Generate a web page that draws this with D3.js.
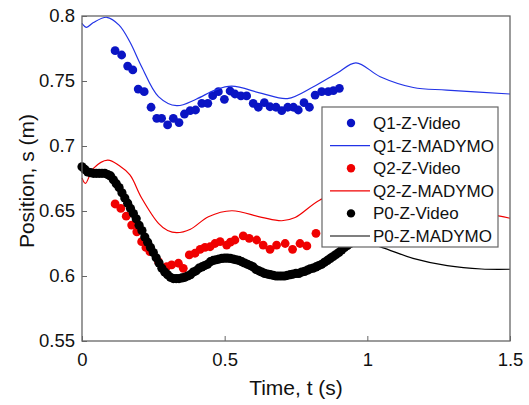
<!DOCTYPE html>
<html lang="en">
<head>
<meta charset="utf-8">
<title>Position vs time</title>
<script src="https://cdn.jsdelivr.net/npm/d3@7"></script>
<style>
  body { margin: 0; background: #fff; }
  svg { font-family: "Liberation Sans", Arial, sans-serif; }
</style>
</head>
<body>
<script>
// Q1 - video markers [t, s]
var q1Video = [[0.116,0.7733],[0.139,0.770],[0.160,0.7615],[0.178,0.7585],[0.197,0.7438],[0.218,0.7418],
  [0.242,0.7298],[0.262,0.7213],[0.279,0.7213],[0.300,0.7162],[0.320,0.7213],[0.340,0.718],[0.359,0.7246],
  [0.379,0.7272],[0.398,0.7277],[0.420,0.7328],[0.441,0.7328],[0.458,0.7387],[0.478,0.7418],[0.499,0.7359],
  [0.519,0.7423],[0.536,0.740],[0.557,0.7385],[0.577,0.7385],[0.600,0.7328],[0.618,0.7298],[0.639,0.7333],
  [0.659,0.7302],[0.680,0.7298],[0.700,0.7272],[0.721,0.7298],[0.741,0.7298],[0.758,0.7277],[0.778,0.7333],
  [0.797,0.7298],[0.817,0.7392],[0.840,0.7418],[0.863,0.7418],[0.881,0.7426],[0.902,0.7444]];
// Q1 - MADYMO curve
var q1Madymo = [[0,0.7944],[0.016,0.7913],[0.04,0.795],[0.087,0.799],[0.13,0.793],[0.168,0.78],[0.209,0.761],
  [0.268,0.738],[0.332,0.731],[0.4,0.736],[0.466,0.743],[0.525,0.746],[0.63,0.7405],[0.72,0.7365],
  [0.811,0.7456],[0.893,0.7559],[0.96,0.764],[1.045,0.7533],[1.161,0.745],[1.278,0.743],[1.5,0.740]];

// Q2 - video markers
var q2Video = [[0.116,0.6554],[0.136,0.652],[0.155,0.646],[0.174,0.6392],[0.192,0.634],[0.209,0.6264],
  [0.224,0.622],[0.238,0.6187],[0.268,0.611],[0.297,0.6072],[0.314,0.6085],[0.338,0.6098],[0.355,0.6059],
  [0.376,0.6162],[0.396,0.6175],[0.414,0.6205],[0.431,0.622],[0.449,0.6225],[0.466,0.625],[0.484,0.6264],
  [0.507,0.6238],[0.52,0.626],[0.536,0.6277],[0.565,0.6308],[0.586,0.629],[0.612,0.6277],[0.635,0.6238],
  [0.659,0.6205],[0.682,0.6238],[0.712,0.625],[0.738,0.6205],[0.764,0.625],[0.788,0.6231],[0.82,0.6328]];
// Q2 - MADYMO curve
var q2Madymo = [[0,0.6755],[0.012,0.6713],[0.04,0.6828],[0.09,0.6892],[0.13,0.685],[0.168,0.6777],
  [0.209,0.660],[0.268,0.6405],[0.3,0.635],[0.332,0.6333],[0.38,0.636],[0.443,0.6456],[0.525,0.6502],
  [0.63,0.6451],[0.70,0.6425],[0.747,0.645],[0.834,0.6585],[0.96,0.668],[1.05,0.658],[1.16,0.650],
  [1.3,0.6475],[1.46,0.6462],[1.5,0.6444]];

// P0 - video markers
var p0Video = [[0,0.684],[0.01,0.682],[0.02,0.680],[0.03,0.6795],[0.04,0.679],[0.05,0.679],[0.06,0.679],
  [0.07,0.679],[0.08,0.679],[0.09,0.678],[0.10,0.677],[0.11,0.674],[0.12,0.671],[0.13,0.668],[0.14,0.664],
  [0.15,0.660],[0.16,0.656],[0.17,0.652],[0.18,0.648],[0.19,0.644],[0.20,0.639],[0.21,0.635],[0.22,0.630],
  [0.23,0.626],[0.24,0.622],[0.25,0.618],[0.26,0.614],[0.27,0.610],[0.28,0.606],[0.29,0.603],[0.30,0.601],
  [0.31,0.599],[0.32,0.598],[0.33,0.598],[0.34,0.598],[0.35,0.5985],[0.36,0.599],[0.37,0.600],[0.38,0.601],
  [0.39,0.603],[0.40,0.604],[0.41,0.606],[0.42,0.607],[0.43,0.608],[0.44,0.609],[0.45,0.611],[0.46,0.612],
  [0.47,0.6125],[0.48,0.613],[0.49,0.6135],[0.50,0.6137],[0.51,0.6137],[0.52,0.6135],[0.53,0.613],
  [0.54,0.6125],[0.55,0.612],[0.56,0.611],[0.57,0.610],[0.58,0.609],[0.59,0.608],[0.60,0.607],[0.61,0.605],
  [0.62,0.604],[0.63,0.603],[0.64,0.602],[0.65,0.6015],[0.66,0.601],[0.67,0.6005],[0.68,0.600],[0.69,0.600],
  [0.70,0.600],[0.71,0.600],[0.72,0.6005],[0.73,0.601],[0.74,0.6015],[0.75,0.602],[0.76,0.602],[0.77,0.603],
  [0.78,0.6035],[0.79,0.6045],[0.80,0.6055],[0.81,0.606],[0.82,0.607],[0.83,0.608],[0.84,0.609],[0.85,0.6105],
  [0.86,0.612],[0.87,0.6135],[0.88,0.615],[0.89,0.6165],[0.90,0.618],[0.91,0.620],[0.92,0.622],[0.93,0.6235],
  [0.94,0.625]];
// P0 - MADYMO curve
var p0Madymo = [[0,0.684],[0.02,0.680],[0.08,0.679],[0.1,0.677],[0.15,0.660],[0.2,0.639],[0.25,0.618],
  [0.3,0.601],[0.33,0.598],[0.4,0.604],[0.5,0.6137],[0.6,0.607],[0.7,0.600],[0.8,0.6055],[0.9,0.618],
  [0.98,0.626],[1.05,0.622],[1.16,0.6136],[1.28,0.608],[1.4,0.6054],[1.5,0.6052]];

var xTicks = [0, 0.5, 1, 1.5];
var yTicks = [0.55, 0.6, 0.65, 0.7, 0.75, 0.8];
var legendNames = ["Q1-Z-Video", "Q1-Z-MADYMO", "Q2-Z-Video", "Q2-Z-MADYMO", "P0-Z-Video", "P0-Z-MADYMO"];

var w = 529, h = 405;
var mLeft = 82, mRight = 510, mTop = 16, mBottom = 341;

var svg = d3.select("body").append("svg").attr("width", w).attr("height", h);

var x = d3.scaleLinear().domain([0, 1.5]).range([mLeft, mRight]);
var y = d3.scaleLinear().domain([0.55, 0.8]).range([mBottom, mTop]);

var blueDot = "#0a14c4", blueLine = "#2233e6", red = "#f00000", black = "#000";

var line = d3.line()
  .x(function(d) { return x(d[0]); })
  .y(function(d) { return y(d[1]); })
  .curve(d3.curveCatmullRom.alpha(0.5));

function dots(data, color, r) {
  svg.append("g").selectAll("circle")
    .data(data)
    .enter()
    .append("circle")
    .attr("cx", function(d) { return x(d[0]); })
    .attr("cy", function(d) { return y(d[1]); })
    .attr("r", r)
    .attr("fill", color);
}
function curve(data, color) {
  svg.append("path")
    .attr("d", line(data))
    .attr("fill", "none")
    .attr("stroke", color)
    .attr("stroke-width", 1.2);
}

dots(q1Video, blueDot, 4.4);
curve(q1Madymo, blueLine);
dots(q2Video, red, 4.4);
curve(q2Madymo, red);
dots(p0Video, black, 4.6);
curve(p0Madymo, black);

// axes
var axisColor = "#666";
var xAxis = d3.axisBottom(x).tickValues(xTicks).tickSize(-5).tickPadding(12)
  .tickFormat(function(d) { return d3.format("")(d); });
var yAxis = d3.axisLeft(y).tickValues(yTicks).tickSize(-5).tickPadding(7)
  .tickFormat(function(d) { return d3.format("")(d); });

var gx = svg.append("g").attr("transform", "translate(0," + mBottom + ")").call(xAxis);
var gy = svg.append("g").attr("transform", "translate(" + mLeft + ",0)").call(yAxis);
[gx, gy].forEach(function(g) {
  g.select(".domain").remove();
  g.selectAll(".tick line").attr("stroke", axisColor);
  g.selectAll(".tick text").attr("fill", "#111").attr("font-size", "18.5px")
    .attr("font-family", "Liberation Sans, Arial, sans-serif");
});

// box
svg.append("rect")
  .attr("x", mLeft).attr("y", mTop)
  .attr("width", mRight - mLeft).attr("height", mBottom - mTop)
  .attr("fill", "none").attr("stroke", axisColor).attr("stroke-width", 1.3);

// titles
svg.append("text")
  .attr("x", (mLeft + mRight) / 2).attr("y", 395)
  .attr("text-anchor", "middle").attr("font-size", "21px").attr("fill", "#111")
  .text("Time, t (s)");
svg.append("text")
  .attr("transform", "translate(34,181) rotate(-90)")
  .attr("text-anchor", "middle").attr("font-size", "21px").attr("fill", "#111")
  .text("Position, s (m)");

// legend
var lg = svg.append("g");
lg.append("rect")
  .attr("x", 322).attr("y", 107).attr("width", 176).attr("height", 140)
  .attr("fill", "#fff").attr("stroke", axisColor).attr("stroke-width", 1.2);
var legendColors = [blueDot, blueLine, red, red, black, black];
legendNames.forEach(function(name, i) {
  var ry = 123 + i * 22.6;
  if (i % 2 === 0) {
    lg.append("circle").attr("cx", 351).attr("cy", ry).attr("r", 4.2).attr("fill", legendColors[i]);
  } else {
    lg.append("line").attr("x1", 330).attr("x2", 370).attr("y1", ry).attr("y2", ry)
      .attr("stroke", legendColors[i]).attr("stroke-width", 1.2);
  }
  lg.append("text").attr("x", 373).attr("y", ry + 6)
    .attr("font-size", "17px").attr("fill", "#111").text(name);
});
</script>
</body>
</html>
